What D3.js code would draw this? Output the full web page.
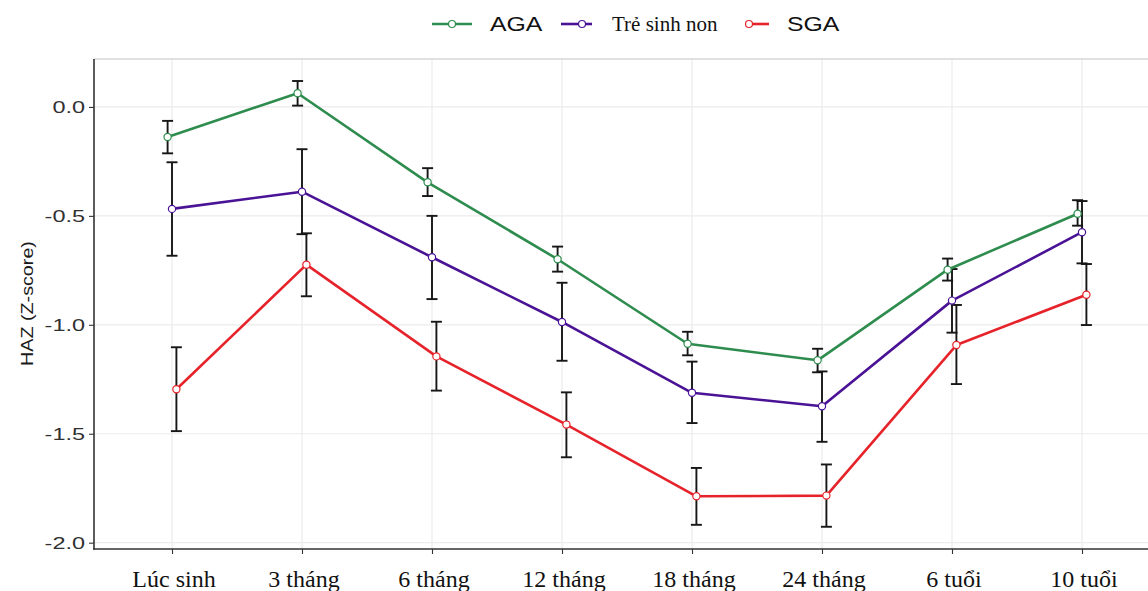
<!DOCTYPE html>
<html>
<head>
<meta charset="utf-8">
<script src="https://cdn.jsdelivr.net/npm/d3@7"></script>
<style>
  html, body { margin: 0; padding: 0; background: #ffffff; }
  svg { display: block; }
</style>
</head>
<body>
<svg id="chart" width="1148" height="591"></svg>
<script>
// Follow-up time points
const categories = ["Lúc sinh", "3 tháng", "6 tháng", "12 tháng", "18 tháng", "24 tháng", "6 tuổi", "10 tuổi"];
const seriesNames = ["AGA", "Trẻ sinh non", "SGA"];

// Mean HAZ and the error bar limits for each group
const aga        = [-0.138,  0.063, -0.346, -0.699, -1.087, -1.163, -0.747, -0.490];
const agaLow     = [-0.213,  0.006, -0.409, -0.756, -1.140, -1.218, -0.797, -0.545];
const agaHigh    = [-0.064,  0.119, -0.281, -0.641, -1.032, -1.110, -0.696, -0.428];

const preterm     = [-0.468, -0.389, -0.690, -0.987, -1.312, -1.374, -0.889, -0.575];
const pretermLow  = [-0.683, -0.584, -0.882, -1.165, -1.451, -1.537, -1.036, -0.718];
const pretermHigh = [-0.254, -0.194, -0.500, -0.807, -1.169, -1.214, -0.744, -0.432];

const sga     = [-1.296, -0.724, -1.145, -1.458, -1.787, -1.784, -1.093, -0.862];
const sgaLow  = [-1.488, -0.869, -1.302, -1.608, -1.918, -1.927, -1.272, -1.001];
const sgaHigh = [-1.103, -0.580, -0.986, -1.310, -1.657, -1.641, -0.909, -0.721];

const yTicks = [0, -0.5, -1.0, -1.5, -2.0];
const yTickLabels = ["0.0", "-0.5", "-1.0", "-1.5", "-2.0"];

const colors = { "AGA": "#2e8c4e", "Trẻ sinh non": "#4a1396", "SGA": "#e6232a" };

const series = [
  { name: "AGA", mean: aga, low: agaLow, high: agaHigh },
  { name: "Trẻ sinh non", mean: preterm, low: pretermLow, high: pretermHigh },
  { name: "SGA", mean: sga, low: sgaLow, high: sgaHigh }
];

const svg = d3.select("#chart");
const panel = { left: 94, right: 1160, top: 59, bottom: 549 };

const x = d3.scalePoint()
  .domain(categories)
  .range([panel.left, panel.right])
  .padding(0.6);

// small horizontal dodge between the three groups
const dodge = d3.scalePoint()
  .domain(seriesNames)
  .range([-4.4, 4.4]);

const y = d3.scaleLinear()
  .domain([-2.029, 0.220])
  .range([panel.bottom, panel.top]);

// grid
const grid = svg.append("g");
grid.selectAll("line.h").data(yTicks).join("line")
  .attr("x1", panel.left).attr("x2", 1148)
  .attr("y1", d => y(d)).attr("y2", d => y(d))
  .attr("stroke", "#ebebeb").attr("stroke-width", 1.2);
grid.selectAll("line.v").data(categories).join("line")
  .attr("x1", d => x(d)).attr("x2", d => x(d))
  .attr("y1", panel.top).attr("y2", panel.bottom)
  .attr("stroke", "#ebebeb").attr("stroke-width", 1.2);

// top border of the panel
svg.append("line")
  .attr("x1", panel.left).attr("x2", 1148)
  .attr("y1", panel.top).attr("y2", panel.top)
  .attr("stroke", "#c4c4c4").attr("stroke-width", 1.2);

// axes
const yAxis = d3.axisLeft(y).tickValues(yTicks).tickSize(5).tickFormat("");
const gy = svg.append("g").attr("transform", `translate(${panel.left},0)`).call(yAxis);
gy.select(".domain").remove();
gy.selectAll(".tick line").attr("stroke", "#333").attr("stroke-width", 1.1);

const xAxis = d3.axisBottom(x).tickSize(5).tickFormat("");
const gx = svg.append("g").attr("transform", `translate(0,${panel.bottom})`).call(xAxis);
gx.select(".domain").remove();
gx.selectAll(".tick line").attr("stroke", "#333").attr("stroke-width", 1.1);

svg.append("line")
  .attr("x1", panel.left).attr("x2", panel.left)
  .attr("y1", panel.top).attr("y2", panel.bottom + 0.8)
  .attr("stroke", "#333").attr("stroke-width", 1.6);
svg.append("line")
  .attr("x1", panel.left - 0.8).attr("x2", 1148)
  .attr("y1", panel.bottom).attr("y2", panel.bottom)
  .attr("stroke", "#333").attr("stroke-width", 1.6);

// y tick labels (wide sans)
svg.append("g").selectAll("g").data(yTicks).join("g")
  .attr("transform", d => `translate(85,${y(d) + 6.3}) scale(1.38,1)`)
  .append("text")
  .attr("text-anchor", "end")
  .attr("font-family", "'Liberation Sans', Arial, sans-serif")
  .attr("font-size", 17)
  .attr("fill", "#303030")
  .text((d, i) => yTickLabels[i]);

// x tick labels (serif)
svg.append("g").selectAll("text").data(categories).join("text")
  .attr("x", d => x(d) + 2)
  .attr("y", 586.5)
  .attr("text-anchor", "middle")
  .attr("font-family", "'Liberation Serif', 'Times New Roman', serif")
  .attr("font-size", 24)
  .attr("fill", "#111")
  .text(d => d);

// y axis title
svg.append("g")
  .attr("transform", "translate(33,303.5) rotate(-90) scale(1.16,1)")
  .append("text")
  .attr("text-anchor", "middle")
  .attr("font-family", "'Liberation Sans', Arial, sans-serif")
  .attr("font-size", 17)
  .attr("fill", "#1a1a1a")
  .text("HAZ (Z-score)");

const px = (s, i) => x(categories[i]) + dodge(s.name);

// error bars
const bars = svg.append("g");
series.forEach(s => {
  const g = bars.append("g").attr("stroke", "#161616").attr("stroke-width", 1.9);
  categories.forEach((c, i) => {
    const cx = px(s, i);
    g.append("line").attr("x1", cx).attr("x2", cx).attr("y1", y(s.high[i])).attr("y2", y(s.low[i]));
    g.append("line").attr("x1", cx - 5.5).attr("x2", cx + 5.5).attr("y1", y(s.high[i])).attr("y2", y(s.high[i]));
    g.append("line").attr("x1", cx - 5.5).attr("x2", cx + 5.5).attr("y1", y(s.low[i])).attr("y2", y(s.low[i]));
  });
});

// lines
const line = d3.line().x(d => d[0]).y(d => d[1]);
series.forEach(s => {
  const pts = categories.map((c, i) => [px(s, i), y(s.mean[i])]);
  svg.append("path")
    .attr("d", line(pts))
    .attr("fill", "none")
    .attr("stroke", colors[s.name])
    .attr("stroke-width", 2.6)
    .attr("stroke-linejoin", "round");
});

// points
series.forEach(s => {
  svg.append("g").selectAll("circle").data(s.mean).join("circle")
    .attr("cx", (d, i) => px(s, i))
    .attr("cy", d => y(d))
    .attr("r", 3.6)
    .attr("fill", "#fff")
    .attr("stroke", colors[s.name])
    .attr("stroke-width", 1.2);
});

// legend
const legendItems = [
  { name: "AGA", x1: 432, x2: 472, cx: 452, tx: 490, serif: false },
  { name: "Trẻ sinh non", x1: 561, x2: 592, cx: 582, tx: 612, serif: true },
  { name: "SGA", x1: 746, x2: 769, cx: 749, tx: 787, serif: false }
];
const lg = svg.append("g");
legendItems.forEach(it => {
  lg.append("line")
    .attr("x1", it.x1).attr("x2", it.x2).attr("y1", 24).attr("y2", 24)
    .attr("stroke", colors[it.name]).attr("stroke-width", 2.6);
  lg.append("circle")
    .attr("cx", it.cx).attr("cy", 24).attr("r", 3.5)
    .attr("fill", "#fff").attr("stroke", colors[it.name]).attr("stroke-width", 1.2);
  if (it.serif) {
    lg.append("text")
      .attr("x", it.tx).attr("y", 31)
      .attr("font-family", "'Liberation Serif', 'Times New Roman', serif")
      .attr("font-size", 21)
      .attr("fill", "#111")
      .text(it.name);
  } else {
    lg.append("g")
      .attr("transform", `translate(${it.tx},31) scale(1.24,1)`)
      .append("text")
      .attr("font-family", "'Liberation Sans', Arial, sans-serif")
      .attr("font-size", 20)
      .attr("fill", "#111")
      .text(it.name);
  }
});
</script>
</body>
</html>
